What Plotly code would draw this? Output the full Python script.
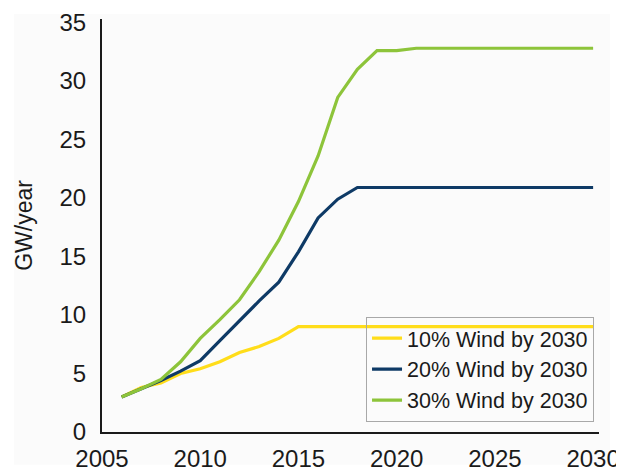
import plotly.graph_objects as go

years = list(range(2006, 2031))

wind10 = [3.0, 3.8, 4.2, 5.0, 5.4, 6.0, 6.8, 7.3, 8.0, 9.0,
          9.0, 9.0, 9.0, 9.0, 9.0, 9.0, 9.0, 9.0, 9.0, 9.0,
          9.0, 9.0, 9.0, 9.0, 9.0]
wind20 = [3.0, 3.7, 4.4, 5.2, 6.1, 7.8, 9.5, 11.2, 12.8, 15.4,
          18.3, 19.9, 20.9, 20.9, 20.9, 20.9, 20.9, 20.9, 20.9, 20.9,
          20.9, 20.9, 20.9, 20.9, 20.9]
wind30 = [3.0, 3.7, 4.5, 6.0, 8.0, 9.6, 11.3, 13.7, 16.4, 19.7,
          23.6, 28.6, 31.0, 32.6, 32.6, 32.8, 32.8, 32.8, 32.8, 32.8,
          32.8, 32.8, 32.8, 32.8, 32.8]

series_names = ["10% Wind by 2030", "20% Wind by 2030", "30% Wind by 2030"]
colors = ["#FFDD1A", "#0E3A66", "#8DC43A"]

x_ticks = [2005, 2010, 2015, 2020, 2025, 2030]
y_ticks = [0, 5, 10, 15, 20, 25, 30, 35]

fig = go.Figure()
for name, vals, col in zip(series_names, [wind10, wind20, wind30], colors):
    fig.add_trace(go.Scatter(x=years, y=vals, mode="lines", name=name,
                             line=dict(color=col, width=3.2)))

font = "Liberation Sans, Arial, sans-serif"
# page body adds an 8px offset; figure is sized to fill the remaining window
fig.update_layout(
    width=616, height=464,
    margin=dict(l=94, r=25, t=11, b=40),
    paper_bgcolor="white",
    plot_bgcolor="rgba(0,0,0,0)",
    font=dict(family=font, size=23, color="#1a1a1a"),
    showlegend=True,
    legend=dict(
        x=0.99, y=0.025, xanchor="right", yanchor="bottom",
        bgcolor="rgba(255,255,255,0)", bordercolor="#A8A8A8", borderwidth=1,
        font=dict(family=font, size=21.5, color="#1a1a1a"),
        tracegroupgap=0, itemwidth=30,
    ),
    xaxis=dict(
        range=[2005, 2030.3], tickvals=x_ticks, showgrid=False, zeroline=False,
        showline=True, linecolor="#1a1a1a", linewidth=2, automargin=False,
        ticks="outside", ticklen=4, tickcolor="rgba(0,0,0,0)",
        tickfont=dict(size=24), ticklabeloverflow="allow",
    ),
    yaxis=dict(
        range=[0, 35.3], tickvals=y_ticks, showgrid=False, zeroline=False,
        showline=True, linecolor="#1a1a1a", linewidth=2, automargin=False,
        ticks="outside", ticklen=9, tickcolor="rgba(0,0,0,0)",
        tickfont=dict(size=24), ticklabeloverflow="allow",
        title=dict(text="GW/year", font=dict(size=23), standoff=20),
    ),
    shapes=[dict(type="rect", xref="paper", yref="paper", layer="below",
                 x0=-0.177, x1=1.022, y0=-0.079, y1=1.012,
                 fillcolor="#FBFBFB", line=dict(width=0))],
)

fig.write_html("out.html")
